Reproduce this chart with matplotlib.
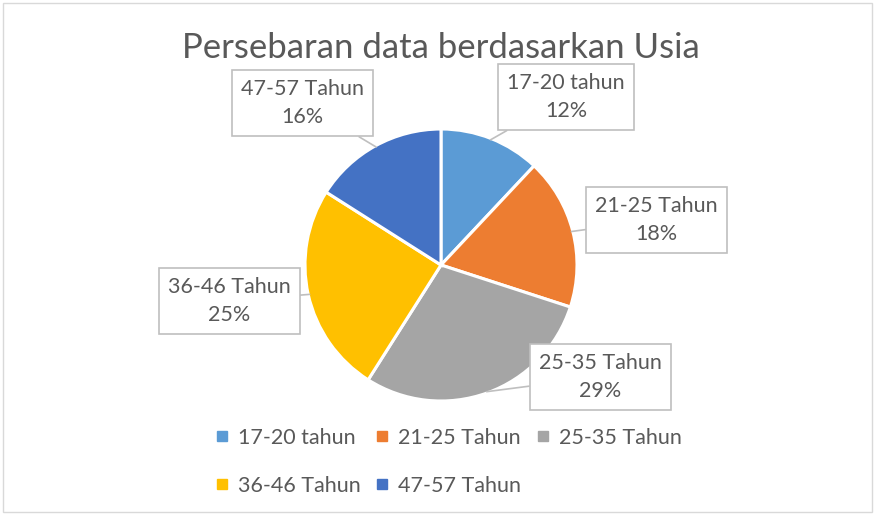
import matplotlib
matplotlib.use('Agg')
import matplotlib.pyplot as plt
from matplotlib.lines import Line2D
from matplotlib.patches import Rectangle
import numpy as np

plt.rcParams['font.family'] = ['Lato', 'DejaVu Sans']

# Data
kategori = ['17-20 tahun', '21-25 Tahun', '25-35 Tahun', '36-46 Tahun', '47-57 Tahun']
persen = [12, 18, 29, 25, 16]
warna = ['#5B9BD5', '#ED7D31', '#A5A5A5', '#FFC000', '#4472C4']

# posisi label (fraksi figure)
posisi_label = [(0.647, 0.812), (0.750, 0.573), (0.686, 0.268), (0.262, 0.416), (0.346, 0.800)]

W, H = 875, 515
fig = plt.figure(figsize=(W / 100, H / 100), dpi=100)

# pusat pie di (441, 265) px, radius 136 px
cx, cy, r = 441, 265, 136
ax = fig.add_axes([(cx - r) / W, (H - cy - r) / H, 2 * r / W, 2 * r / H])

wedges, _ = ax.pie(persen, colors=warna, startangle=90, counterclock=False,
                   radius=1, wedgeprops=dict(edgecolor='white', linewidth=2.2))
ax.set_xlim(-1, 1)
ax.set_ylim(-1, 1)
ax.set_aspect('equal')
ax.axis('off')

teks_warna = '#595959'
for w, nama, p, pos in zip(wedges, kategori, persen, posisi_label):
    ang = np.deg2rad((w.theta1 + w.theta2) / 2)
    titik = (np.cos(ang) * 0.99, np.sin(ang) * 0.99)
    ax.annotate(f'{nama}\n{p}%', xy=titik, xycoords='data',
                xytext=pos, textcoords='figure fraction',
                ha='center', va='center', fontsize=15.5, color=teks_warna,
                linespacing=1.52,
                bbox=dict(boxstyle='square,pad=0.42', facecolor='white', edgecolor='#BFBFBF', linewidth=1.2),
                arrowprops=dict(arrowstyle='-', color='#BFBFBF', linewidth=1.2,
                                shrinkA=0, shrinkB=0))

fig.text(cx / W, 1 - 48 / H, 'Persebaran data berdasarkan Usia', ha='center', va='center',
         fontsize=25, color=teks_warna)

# legenda: urutan disusun supaya baris pertama 3 item
urutan = [0, 3, 1, 4, 2]
handles = [Line2D([], [], marker='s', linestyle='none', markersize=6.5,
                  markerfacecolor=warna[i], markeredgecolor=warna[i]) for i in urutan]
labels = [kategori[i] for i in urutan]
fig.legend(handles, labels, loc='upper left', bbox_to_anchor=(214 / W, 1 - 428 / H),
           ncol=3, frameon=False, fontsize=15.5, labelcolor=teks_warna,
           borderpad=0, borderaxespad=0,
           handlelength=0.7, handletextpad=0.4, columnspacing=0.65, labelspacing=1.28)

# bingkai chart
fig.patches.append(Rectangle((3 / W, 3 / H), (W - 6) / W, (H - 6) / H, transform=fig.transFigure,
                             fill=False, edgecolor='#D9D9D9', linewidth=1))

fig.savefig('out.png', dpi=100)
